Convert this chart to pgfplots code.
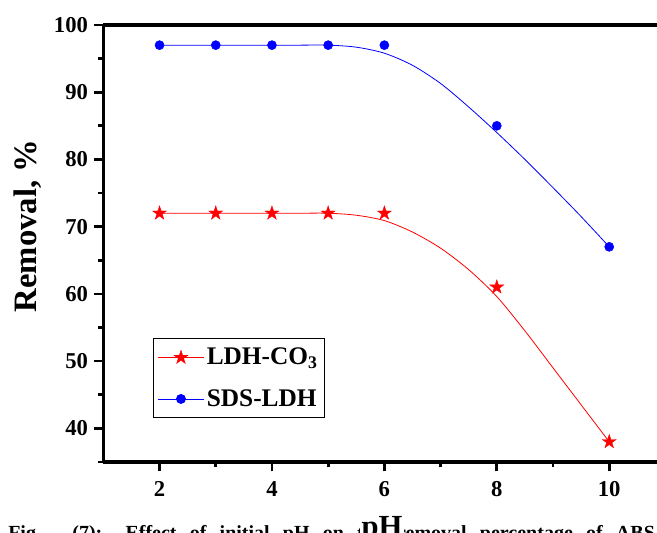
\documentclass[border=0pt]{standalone}
\usepackage{fontspec}
\setmainfont{Liberation Serif}
\usepackage{pgfplots}
\pgfplotsset{compat=1.18}

% filled five-point star
\pgfdeclareplotmark{fstar}{%
  \pgfpathmoveto{\pgfpointpolar{90}{\pgfplotmarksize}}%
  \pgfpathlineto{\pgfpointpolar{126}{0.382\pgfplotmarksize}}%
  \pgfpathlineto{\pgfpointpolar{162}{\pgfplotmarksize}}%
  \pgfpathlineto{\pgfpointpolar{198}{0.382\pgfplotmarksize}}%
  \pgfpathlineto{\pgfpointpolar{234}{\pgfplotmarksize}}%
  \pgfpathlineto{\pgfpointpolar{270}{0.382\pgfplotmarksize}}%
  \pgfpathlineto{\pgfpointpolar{306}{\pgfplotmarksize}}%
  \pgfpathlineto{\pgfpointpolar{342}{0.382\pgfplotmarksize}}%
  \pgfpathlineto{\pgfpointpolar{18}{\pgfplotmarksize}}%
  \pgfpathlineto{\pgfpointpolar{54}{0.382\pgfplotmarksize}}%
  \pgfpathclose
  \pgfusepathqfillstroke
}

\begin{document}
\begin{tikzpicture}
\begin{axis}[
    width=415.3pt, height=327.75pt,
    scale only axis,
    xmin=1, xmax=10.85,
    ymin=35, ymax=100,
    axis lines=left,
    axis line style={-, line width=2.4pt},
    xtick={2,4,6,8,10},
    minor xtick={3,5,7,9},
    ytick={40,50,...,100},
    minor ytick={35,45,...,95},
    tick align=outside,
    major tick length=7pt,
    minor tick length=4pt,
    every tick/.style={black, line width=2pt},
    tick label style={font=\fontsize{17}{20}\selectfont\bfseries},
    /pgf/number format/assume math mode=true,
    xticklabel style={yshift=-4pt},
    yticklabel style={xshift=-1pt},
    ylabel={Removal, \%},
    ylabel style={font=\fontsize{24.5}{28}\selectfont\bfseries, at={(axis description cs:-0.136,0.54)}, anchor=center, rotate=0},
    legend style={at={(axis description cs:0.0903,0.283)}, anchor=north west,
        draw=black, line width=0.75pt, font=\fontsize{19}{22}\selectfont\bfseries,
        inner xsep=3pt, inner ysep=5pt, row sep=13pt, cells={anchor=west}},
    legend image code/.code={%
        \draw[mark repeat=2, mark phase=2, #1]
        plot coordinates {(0cm,0cm) (0.6cm,0cm) (1.2cm,0cm)};},
    clip=false,
]
% measured points
\addplot[red, only marks, mark=fstar, mark size=5.5pt, mark options={fill=red, line width=0.3pt}, forget plot]
  coordinates {(2,72)(3,72)(4,72)(5,72)(6,72)(8,61)(10,38)};
\addplot[blue, only marks, mark=*, mark size=3.4pt, mark options={fill=blue}, forget plot]
  coordinates {(2,97)(3,97)(4,97)(5,97)(6,97)(8,85)(10,67)};
% fitted curves as read from the figure
\addplot[red, line width=0.6pt, smooth, forget plot]
  coordinates {(2,72)(3,72)(4,72)(4.5,72)(5,72)(5.5,71.7)(6,70.9)(6.5,69.2)(7,66.8)(7.5,63.6)(8,59.6)(8.5,54.5)(9,49.0)(9.5,43.5)(10,38)};
\addplot[blue, line width=0.6pt, smooth, forget plot]
  coordinates {(2,97)(3,97)(4,97)(4.5,97)(5,97)(5.5,96.7)(6,95.8)(6.5,94.0)(7,91.3)(7.5,87.8)(8,84.0)(8.5,80.0)(9,75.8)(9.5,71.5)(10,67)};
\addlegendimage{red, line width=0.6pt, mark=fstar, mark size=5.5pt, mark options={fill=red, line width=0.3pt}}
\addlegendentry{LDH-CO\textsubscript{3}}
\addlegendimage{blue, line width=0.6pt, mark=*, mark size=3.4pt, mark options={fill=blue}}
\addlegendentry{SDS-LDH}
\draw[line width=2.4pt] (rel axis cs:0,1) -- (rel axis cs:1,1);
\end{axis}
% caption cut by the lower edge
\node[anchor=base west, inner sep=0pt, font=\fontsize{15}{18}\selectfont\bfseries]
  at ([shift={(-71.5pt,-58pt)}]current axis.south west)
  {\makebox[485pt][s]{Fig. (7): Effect of initial pH on the removal percentage of ABS}};
\node[anchor=base, fill=white, inner sep=1pt, font=\fontsize{23}{26}\selectfont\bfseries]
  at ([shift={(209pt,-56pt)}]current axis.south west) {pH};
\pgfresetboundingbox
\path ([shift={(-77.5pt,-53.25pt)}]current axis.south west) rectangle ([shift={(0pt,18.75pt)}]current axis.north east);
\end{tikzpicture}
\end{document}
